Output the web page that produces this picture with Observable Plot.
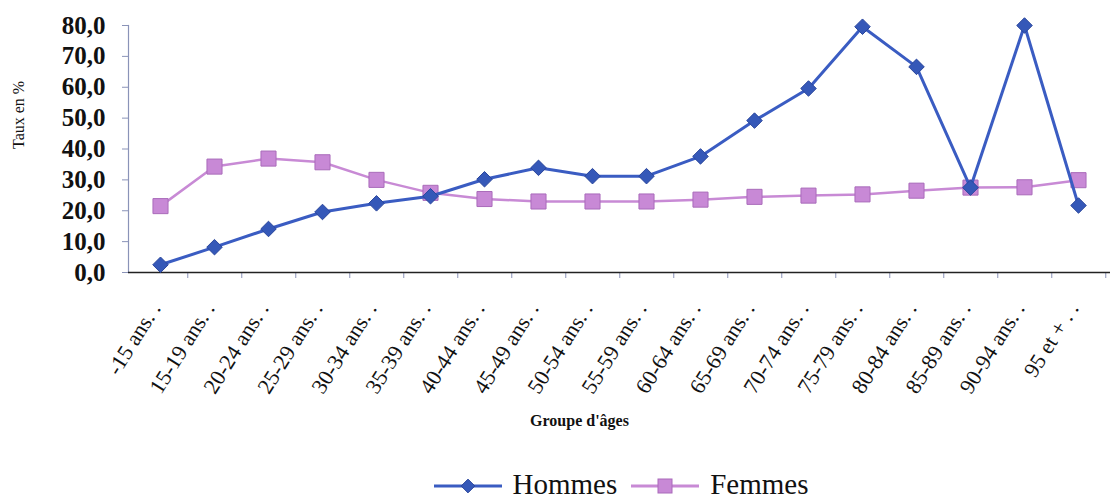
<!DOCTYPE html>
<html><head><meta charset="utf-8">
<script src="https://cdn.jsdelivr.net/npm/d3@7"></script>
<script src="https://cdn.jsdelivr.net/npm/@observablehq/plot@0.6"></script>
<style>
body{margin:0;background:#fff;}
#chart{width:1110px;}
#legend{display:flex;justify-content:center;align-items:center;height:47px;font-family:"Liberation Serif","Times New Roman",serif;font-size:29px;color:#111;padding-left:130px;padding-top:6px;width:980px;}
#legend .item{display:flex;align-items:center;margin:0 6px;}
#legend svg{margin-right:9px;}
</style></head><body>
<div id="chart"></div>
<div id="legend"></div>
<script>
const categories = ["-15 ans. .","15-19 ans. .","20-24 ans. .","25-29 ans. .","30-34 ans. .","35-39 ans. .","40-44 ans. .","45-49 ans. .","50-54 ans. .","55-59 ans. .","60-64 ans. .","65-69 ans. .","70-74 ans. .","75-79 ans. .","80-84 ans. .","85-89 ans. .","90-94 ans. .","95 et + . ."];
const hommes = [2.5,8.2,14.1,19.6,22.4,24.7,30.2,33.9,31.2,31.2,37.6,49.2,59.6,79.6,66.6,27.5,80.0,21.7];
const femmes = [21.5,34.3,36.9,35.7,30.0,25.8,23.8,23.0,23.0,23.0,23.6,24.5,24.9,25.3,26.5,27.5,27.6,29.9];
const yTicks = [0,10,20,30,40,50,60,70,80];
const seriesNames = ["Hommes","Femmes"];
const xTitle = "Groupe d'âges";
const yTitle = "Taux en %";

const colors = {Hommes:{line:"#3a5cc2", fill:"#3558b8", stroke:"#2a469c"}, Femmes:{line:"#c88ad5", fill:"#c889d6", stroke:"#a96bba"}};
const serif = "Liberation Serif, Times New Roman, serif";
const W = 1110, H = 455, mL = 128, mR = 0, mT = 25, mB = 183;
const half = (W - mL - mR) / categories.length / 2;

const hData = categories.map((c,i)=>({cat:c, v:hommes[i]}));
const fData = categories.map((c,i)=>({cat:c, v:femmes[i]}));
const fmt = d => d.toFixed(1).replace(".", ",");

const chart = Plot.plot({
  width: W, height: H, marginLeft: mL, marginRight: mR, marginTop: mT, marginBottom: mB,
  style: {fontFamily: serif, color: "#111", background: "#fff", overflow: "visible"},
  x: {type: "point", domain: categories, padding: 0.5, label: null},
  y: {domain: [0, 80], label: null},
  marks: [
    Plot.frame({anchor: "left", stroke: "#8a93b8", strokeWidth: 1.2}),
    Plot.axisY(yTicks, {tickSize: 6, tickPadding: 17, tickFormat: fmt, fontSize: 25, fontWeight: "bold", stroke: "#8a93b8", label: null}),
    Plot.axisX(categories, {tickSize: 6, dx: half, tickFormat: () => "", stroke: "#8a93b8", label: null}),
    Plot.axisX(categories, {tickSize: 0, tickPadding: 32, tickRotate: -58, fontSize: 22, dx: -5, label: null}),
    Plot.ruleY([0], {stroke: "#222", strokeWidth: 1.6}),
    Plot.line(fData, {x: "cat", y: "v", stroke: colors.Femmes.line, strokeWidth: 2.5}),
    Plot.dot(fData, {x: "cat", y: "v", symbol: "square", r: 8.5, fill: colors.Femmes.fill, stroke: colors.Femmes.stroke, strokeWidth: 1}),
    Plot.line(hData, {x: "cat", y: "v", stroke: colors.Hommes.line, strokeWidth: 3}),
    Plot.dot(hData, {x: "cat", y: "v", symbol: "diamond2", r: 7, fill: colors.Hommes.fill, stroke: colors.Hommes.stroke, strokeWidth: 1}),
    Plot.text([xTitle], {frameAnchor: "bottom", dy: 153, dx: -40, fontSize: 16, fontWeight: "bold"}),
    Plot.text([yTitle], {frameAnchor: "left", dx: -110, rotate: -90, fontSize: 16})
  ]
});
document.getElementById("chart").appendChild(chart);

const legend = d3.select("#legend");
seriesNames.forEach(name => {
  const item = legend.append("div").attr("class", "item");
  const s = item.append("svg").attr("width", 72).attr("height", 20);
  s.append("line").attr("x1", 2).attr("x2", 70).attr("y1", 11).attr("y2", 11).attr("stroke", colors[name].line).attr("stroke-width", 3);
  if (name === "Hommes") {
    s.append("path").attr("d", d3.symbol(d3.symbolDiamond2, 120)()).attr("transform", "translate(36,11)").attr("fill", colors[name].fill).attr("stroke", colors[name].stroke);
  } else {
    s.append("rect").attr("x", 29).attr("y", 4).attr("width", 14).attr("height", 14).attr("fill", colors[name].fill).attr("stroke", colors[name].stroke);
  }
  item.append("span").text(name);
});
</script>
</body></html>
